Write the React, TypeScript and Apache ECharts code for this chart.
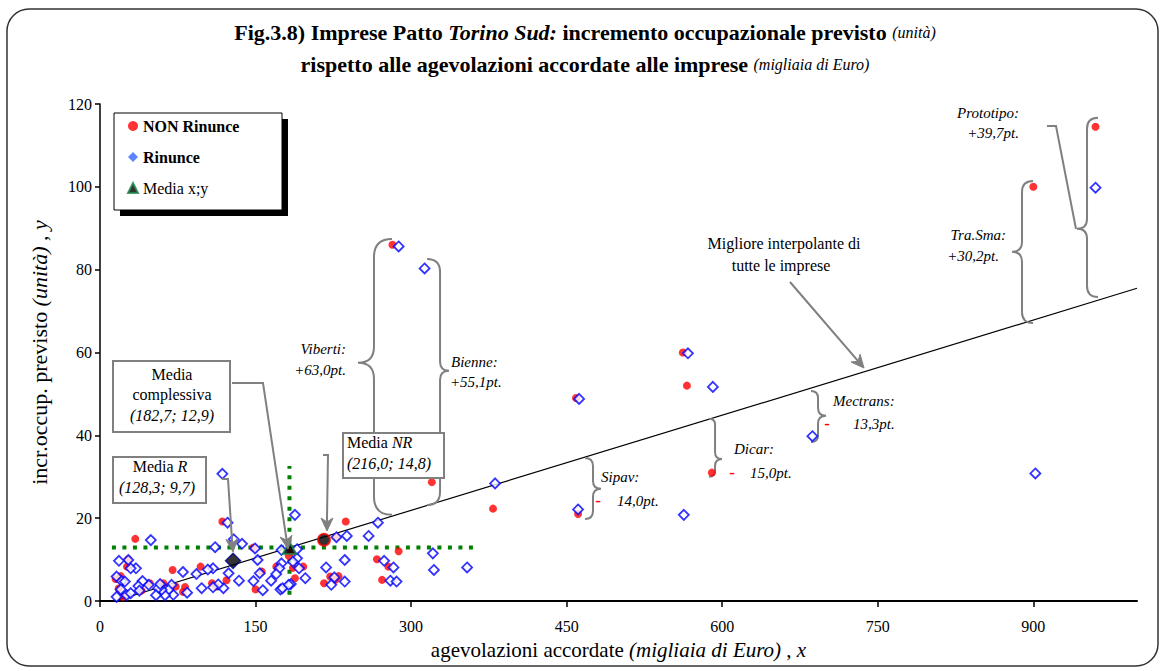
import React, { useEffect, useRef } from "react";
import * as echarts from "echarts";

const SERIF = "'Liberation Serif', 'Times New Roman', serif";
const GRAY = "#808080";

// ---- data ----
const nonRinunce: number[][] = [
  [960, 114.5], [900, 100], [282, 86], [562, 60], [566, 52], [459, 49], [461, 21], [590, 31],
  [320, 28.7], [379, 22.3], [118, 19.2], [237, 19.2], [34, 15], [148, 12.9], [185, 11.9], [288, 12],
  [182, 10.9], [267, 10.1], [278, 8.3], [170, 8.3], [186, 8], [196, 8.3], [156, 7.1], [97, 8.3],
  [70, 7.5], [27, 10], [26, 8.3], [15, 5.3], [22, 1], [48, 4.3], [61, 4.3], [82, 3.4], [80, 2.2],
  [122, 5], [108, 4.3], [112, 3.5], [150, 2.8], [188, 5.5], [222, 5.9], [227, 5.1], [216, 4.3],
  [272, 5.1], [228, 15.5], [20, 6], [18, 3], [73, 3.5], [40, 2.5], [230, 6],
];

const rinunce: number[][] = [
  [960, 99.8], [902, 30.8], [288, 85.6], [313, 80.3], [567, 59.8], [591, 51.7], [462, 48.8],
  [687, 39.8], [461, 22.1], [563, 20.8], [381, 28.4], [268, 18.9], [228, 15.4], [238, 15.7],
  [259, 15.7], [321, 11.5], [322, 7.5], [354, 8.1], [236, 9.9], [218, 8.1], [274, 9.7], [283, 8.1],
  [280, 4.9], [286, 4.7], [236, 4.7], [226, 5.7], [223, 3.9], [188, 20.8], [190, 10.3], [192, 7.9],
  [184, 4.1], [175, 12.3], [175, 9.1], [173, 7.9], [170, 6.5], [165, 4.9], [174, 2.8], [176, 3.1],
  [182, 3.9], [157, 2.6], [148, 4.8], [154, 6.7], [152, 9.9], [149.5, 12.7], [137, 13.8],
  [129, 14.9], [123, 18.9], [118, 30.7], [111, 13], [124, 6.7], [134, 4.9], [119, 3.1], [114, 4],
  [109, 3.3], [109, 7.9], [104, 7.6], [98, 3.1], [93, 6.5], [84, 2], [80, 7], [70.7, 1.5],
  [69, 3.9], [66, 2.7], [62.7, 1.4], [59.5, 2.7], [56, 3.1], [54, 1.4], [58, 4.1], [49, 14.7],
  [47, 3.9], [41, 4.8], [37, 3.6], [38, 2.5], [34.7, 7.9], [29.6, 7.9], [27.3, 9.9], [18.3, 9.7],
  [16, 5.9], [21, 4.8], [24, 4.7], [20, 2.8], [16, 1], [25.7, 1.4], [29.6, 1.9], [198, 5.5],
  [190, 12.5], [186, 9.5],
];

const mediaTot = [182.7, 12.9];
const mediaR = [128.3, 9.7];
const mediaNR = [216.0, 14.8];
const regSlope = 0.0766;
const regRange = [14.3, 1000];
const meanHRange = [11.5, 361];
const meanVRange = [1.5, 32.6];
const xTicks = [0, 150, 300, 450, 600, 750, 900];
const yTicks = [0, 20, 40, 60, 80, 100, 120];

// brace annotations: x, yTop, yBottom, yTip (data units), direction, curl px, tip px
const braces: number[][] = [
  [264.2, 87.4, 20.8, 57.5, -1, 18, 16],
  [327.9, 82.6, 23.2, 55.6, 1, 13, 9],
  [475.4, 34.5, 19.8, 27.1, 1, 8, 8],
  [593.1, 44.0, 30.0, 34.3, 1, 6, 7],
  [692.4, 50.7, 38.4, 44.7, 1, 7, 8],
  [889.1, 101.4, 67.1, 84.3, -1, 11, 10],
  [951.8, 116.7, 73.4, 89.9, -1, 11, 10],
];

const regLine = regRange.map((x) => [x, mediaTot[1] + regSlope * (x - mediaTot[0])]);
const meanH = meanHRange.map((x) => [x, mediaTot[1]]);
const meanV = meanVRange.map((y) => [mediaTot[0], y]);

function arrow(points: number[][], head = true): any[] {
  const pts = points.map((p) => p.slice());
  const els: any[] = [];
  if (head) {
    const [x1, y1] = pts[pts.length - 2];
    const [x2, y2] = pts[pts.length - 1];
    const a = Math.atan2(y2 - y1, x2 - x1);
    const L = 13, W = 6, N = 4;
    const c = Math.cos(a), s = Math.sin(a);
    const bx = x2 - L * c, by = y2 - L * s;
    const nx = bx + N * c, ny = by + N * s;
    els.push({
      type: "polygon", z: 100,
      shape: { points: [[x2, y2], [bx - s * W, by + c * W], [nx, ny], [bx + s * W, by - c * W]] },
      style: { fill: GRAY, stroke: GRAY, lineWidth: 1 },
    });
    pts[pts.length - 1] = [nx, ny];
  }
  els.unshift({
    type: "polyline", z: 100, shape: { points: pts },
    style: { stroke: GRAY, lineWidth: 2, fill: null },
  });
  return els;
}

function txt(x: number, y: number, text: string, opts: any = {}): any {
  const size = opts.size || 16;
  return {
    type: "text", x, y, z: 101,
    style: {
      text, fill: opts.fill || "#000", fontFamily: SERIF, fontSize: size,
      fontStyle: opts.italic ? "italic" : "normal", fontWeight: opts.bold ? "bold" : "normal",
      textAlign: opts.align || "left", textVerticalAlign: "middle",
      rich: { i: { fontStyle: "italic", fontFamily: SERIF, fontSize: size, fill: "#000" } },
    },
  };
}

function box(x: number, y: number, w: number, h: number): any {
  return { type: "rect", z: 99, shape: { x, y, width: w, height: h }, style: { fill: "#fff", stroke: GRAY, lineWidth: 2 } };
}

const minus = (x: number, y: number) => txt(x, y, "-", { fill: "#ff0000", size: 17, bold: true, align: "center" });

const graphics: any[] = [
  { type: "rect", z: 0, silent: true, shape: { x: 7, y: 9, width: 1151, height: 657, r: 22 }, style: { fill: null, stroke: "#333", lineWidth: 1.5 } },
  // legend box
  { type: "rect", z: 50, shape: { x: 120, y: 119, width: 168, height: 97 }, style: { fill: "#000" } },
  { type: "rect", z: 51, shape: { x: 114, y: 113, width: 168, height: 97 }, style: { fill: "#fff", stroke: "#000", lineWidth: 1 } },
  // Media complessiva
  box(113, 361, 117, 71),
  txt(172, 374, "Media", { align: "center" }),
  txt(172, 394, "complessiva", { align: "center" }),
  txt(172, 415, "(182,7; 12,9)", { align: "center", italic: true }),
  ...arrow([[232, 383], [263, 383], [286, 536], [288, 549]]),
  // Media R
  box(113, 457, 93, 46),
  txt(160, 466, "Media {i|R}", { align: "center" }),
  txt(157, 487, "(128,3; 9,7)", { align: "center", italic: true }),
  ...arrow([[222, 479], [228, 479], [232, 540], [233, 552]]),
  // Media NR
  box(343, 433, 101, 45),
  txt(347, 442, "Media {i|NR}"),
  txt(347, 463, "(216,0; 14,8)", { italic: true }),
  ...arrow([[323, 455], [328, 455], [327, 518], [327, 531]]),
  // best fit label
  txt(784, 243, "Migliore interpolante di", { align: "center" }),
  txt(781, 265, "tutte le imprese", { align: "center" }),
  ...arrow([[790, 282], [864, 368]]),
  // Prototipo leader
  ...arrow([[1047, 126], [1056, 126], [1076, 229]], false),
  // brace labels
  txt(346, 349, "Viberti:", { italic: true, size: 15, align: "right" }),
  txt(346, 370, "+63,0pt.", { italic: true, size: 15, align: "right" }),
  txt(451, 362, "Bienne:", { italic: true, size: 15 }),
  txt(450, 382, "+55,1pt.", { italic: true, size: 15 }),
  txt(601, 477, "Sipav:", { italic: true, size: 15 }),
  minus(598, 500),
  txt(617, 501, "14,0pt.", { italic: true, size: 15 }),
  txt(734, 449, "Dicar:", { italic: true, size: 15 }),
  minus(732, 472),
  txt(750, 473, "15,0pt.", { italic: true, size: 15 }),
  txt(833, 401, "Mectrans:", { italic: true, size: 15 }),
  minus(827, 423),
  txt(853, 424, "13,3pt.", { italic: true, size: 15 }),
  txt(1006, 235, "Tra.Sma:", { italic: true, size: 15, align: "right" }),
  txt(999, 256, "+30,2pt.", { italic: true, size: 15, align: "right" }),
  txt(1019, 113, "Prototipo:", { italic: true, size: 15, align: "right" }),
  txt(1019, 133, "+39,7pt.", { italic: true, size: 15, align: "right" }),
];

const option: any = {
  animation: false,
  backgroundColor: "#fff",
  textStyle: { fontFamily: SERIF },
  title: {
    left: 580,
    textAlign: "center",
    top: 11,
    text: "Fig.3.8) Imprese Patto {bi|Torino Sud:} incremento occupazionale previsto {s|(unità)}\nrispetto alle agevolazioni accordate alle imprese {s|(migliaia di Euro)}",
    textStyle: {
      fontFamily: SERIF, fontSize: 22, fontWeight: "bold", color: "#000", lineHeight: 32,
      rich: {
        bi: { fontFamily: SERIF, fontSize: 22, fontWeight: "bold", fontStyle: "italic", color: "#000", lineHeight: 32 },
        s: { fontFamily: SERIF, fontSize: 16, fontWeight: "normal", fontStyle: "italic", color: "#000", lineHeight: 32 },
      },
    },
  },
  legend: {
    orient: "vertical",
    left: 127,
    top: 118,
    padding: 0,
    itemGap: 15,
    itemWidth: 10,
    itemHeight: 10,
    z: 60,
    textStyle: { fontFamily: SERIF, fontSize: 16, color: "#000" },
    data: [
      { name: "NON Rinunce", icon: "circle", textStyle: { fontWeight: "bold", fontFamily: SERIF, fontSize: 16 } },
      { name: "Rinunce", icon: "diamond", itemStyle: { color: "#3366ff", borderWidth: 0 }, textStyle: { fontWeight: "bold", fontFamily: SERIF, fontSize: 16 } },
      { name: "Media x;y", icon: "triangle", itemStyle: { color: "#000", borderColor: "#1f8a4c", borderWidth: 2 } },
    ],
  },
  grid: { left: 100, top: 104, width: 1037, height: 497, containLabel: false },
  xAxis: {
    type: "value", min: 0, max: 1000, interval: 150,
    name: "agevolazioni accordate {i|(migliaia di Euro)} , {i|x}",
    nameLocation: "middle", nameGap: 38,
    nameTextStyle: {
      fontFamily: SERIF, fontSize: 21, color: "#000",
      rich: { i: { fontFamily: SERIF, fontSize: 21, fontStyle: "italic", color: "#000" } },
    },
    axisLine: { lineStyle: { color: "#000", width: 2 } },
    axisTick: { show: true, length: 6, lineStyle: { color: "#000", width: 1.5 }, customValues: xTicks },
    axisLabel: { color: "#000", fontFamily: SERIF, fontSize: 16, margin: 17, customValues: xTicks },
    splitLine: { show: false },
  },
  yAxis: {
    type: "value", min: 0, max: 120, interval: 20,
    name: "incr.occup. previsto {i|(unità)} , {i|y}",
    nameLocation: "middle", nameGap: 50,
    nameTextStyle: {
      fontFamily: SERIF, fontSize: 22, color: "#000",
      rich: { i: { fontFamily: SERIF, fontSize: 22, fontStyle: "italic", color: "#000" } },
    },
    axisLine: { show: true, lineStyle: { color: "#000", width: 1.5 } },
    axisTick: { show: true, length: 5, lineStyle: { color: "#000", width: 1.5 }, customValues: yTicks },
    axisLabel: { color: "#000", fontFamily: SERIF, fontSize: 16, margin: 8, customValues: yTicks },
    splitLine: { show: false },
  },
  series: [
    {
      name: "Migliore interpolante", type: "line", data: regLine, symbol: "none", silent: true, z: 1,
      lineStyle: { color: "#000", width: 1.2 },
    },
    {
      name: "meanH", type: "line", data: meanH, symbol: "none", silent: true, z: 1,
      lineStyle: { color: "#008000", width: 4, type: [4, 6.5] },
    },
    {
      name: "meanV", type: "line", data: meanV, symbol: "none", silent: true, z: 1,
      lineStyle: { color: "#008000", width: 4, type: [4, 6.5] },
    },
    {
      name: "braces", type: "custom", silent: true, z: 3,
      encode: { x: 0, y: 1 },
      data: braces,
      renderItem: (_p: any, api: any) => {
        const X = api.coord([api.value(0), 0])[0];
        const T = api.coord([0, api.value(1)])[1];
        const B = api.coord([0, api.value(2)])[1];
        const M = api.coord([0, api.value(3)])[1];
        const d = api.value(4), w = api.value(5), r = api.value(6);
        const pd = `M${X - d * w} ${T} Q${X} ${T} ${X} ${T + w} L${X} ${M - r} Q${X} ${M} ${X + d * r} ${M} Q${X} ${M} ${X} ${M + r} L${X} ${B - w} Q${X} ${B} ${X - d * w} ${B}`;
        return { type: "path", shape: { pathData: pd }, style: { fill: "none", stroke: GRAY, lineWidth: 2 } };
      },
    },
    {
      name: "NON Rinunce", type: "scatter", data: nonRinunce, symbol: "circle", symbolSize: 8, z: 4,
      itemStyle: { color: "#ff0000" },
    },
    {
      name: "Rinunce", type: "scatter", data: rinunce, symbol: "diamond", symbolSize: 10, z: 5,
      itemStyle: { color: "#fff", borderColor: "#0000ff", borderWidth: 1.8 },
    },
    {
      name: "Media NR", type: "scatter", data: [mediaNR], symbol: "circle", symbolSize: 12, z: 6,
      itemStyle: { color: "#000", borderColor: "#ff0000", borderWidth: 2 },
    },
    {
      name: "Media R", type: "scatter", data: [mediaR], symbol: "diamond", symbolSize: 15, z: 6,
      itemStyle: { color: "#000", borderColor: "#000080", borderWidth: 1.5 },
    },
    {
      name: "Media x;y", type: "scatter", data: [mediaTot], symbol: "triangle", symbolSize: 13, z: 6,
      itemStyle: { color: "#000", borderColor: "#1f8a4c", borderWidth: 2 },
    },
  ],
  graphic: graphics,
};

export default function App() {
  const ref = useRef<HTMLDivElement>(null);
  useEffect(() => {
    const chart = echarts.init(ref.current!, null, { renderer: "svg" });
    chart.setOption(option);
    return () => chart.dispose();
  }, []);
  return (
    <div
      ref={ref}
      style={{ position: "fixed", left: 0, top: 0, width: 1165, height: 671, background: "#fff" }}
    />
  );
}
